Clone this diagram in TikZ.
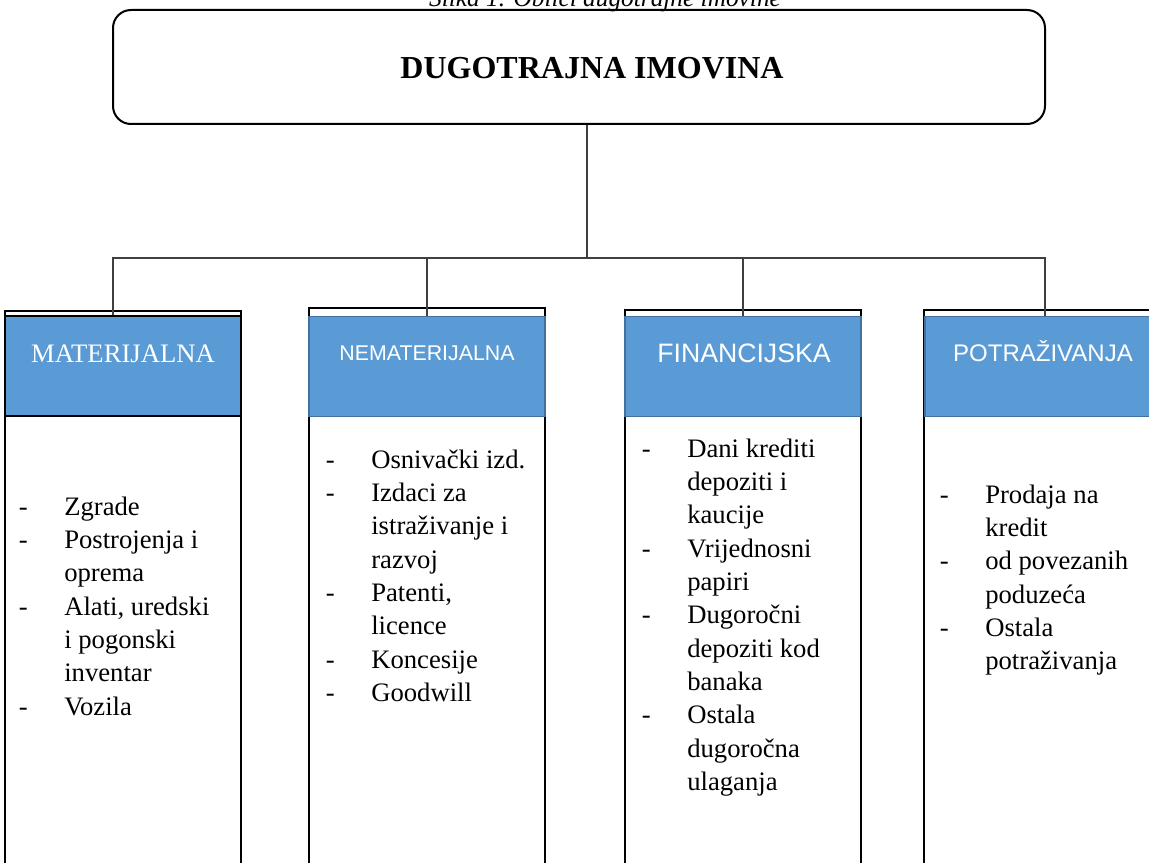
\documentclass[tikz,border=0pt]{standalone}
\usepackage{fontspec}
\setmainfont{Liberation Serif}
\newfontfamily\hdrsans{Liberation Sans}
\definecolor{hdrblue}{HTML}{5B9BD5}
\definecolor{hdredge}{HTML}{41719C}
\definecolor{linkgray}{HTML}{404040}
\newlength{\dashw}
\setlength{\dashw}{34pt}
\newcommand{\itm}{\makebox[\dashw][l]{-}}
\newcommand{\cnt}{\hspace*{\dashw}}
\tikzset{
	titlebox/.style={draw, line width=1.5pt, rounded corners=13.5pt, minimum width=699pt, minimum height=85.5pt, inner sep=0pt},
	hdrbox/.style={fill=hdrblue, draw=hdredge, line width=1.2pt, minimum width=177pt, minimum height=75pt, inner sep=0pt},
	hdrtxt/.style={anchor=base, inner sep=0pt, text=white},
	colframe/.style={line width=1.5pt},
	link/.style={draw=linkgray, line width=1pt},
	listtxt/.style={anchor=base west, inner sep=0pt, font=\fontsize{20}{25}\selectfont}
}
\begin{document}
\begin{tikzpicture}[x=0.75pt,y=0.75pt,yscale=-1,xscale=1]
		\useasboundingbox (0,0) rectangle (1149,863);
		\clip (0,0) rectangle (1149,863);
		
		% Text Node
		\node [anchor=base, inner sep=0pt, font=\itshape\fontsize{19}{23}\selectfont] (cap) at (605,6.5) {Slika 1. Oblici dugotrajne imovine};
		
		%Rounded Rect
		\node [titlebox] (top) at (579,67) {};
		% Text Node
		\node [anchor=base, inner sep=0pt, font=\bfseries\fontsize{24}{28}\selectfont] (toplbl) at (592,78.5) {DUGOTRAJNA IMOVINA};
		
		%Shape: Rectangle
		\draw [colframe] (5,311) rectangle (241,875);
		%Shape: Rectangle
		\draw [colframe] (309,308) rectangle (545,875);
		%Shape: Rectangle
		\draw [colframe] (625,310) rectangle (861,875);
		%Shape: Rectangle
		\draw [colframe] (924,310) rectangle (1165,875);
		
		%Shape: Rectangle
		\node [hdrbox, draw=black, line width=1.5pt] (mat) at (123,366) {};
		%Shape: Rectangle
		\node [hdrbox] (nemat) at (427,366.5) {};
		%Shape: Rectangle
		\node [hdrbox] (fin) at (743,366.5) {};
		%Shape: Rectangle
		\node [hdrbox] (pot) at (1043,366.5) {};
		
		%Straight Lines
		\coordinate (hub) at (587,258);
		\coordinate (busL) at (113,258);
		\coordinate (busR) at (1045,258);
		\draw [link] (top.south -| hub) -- (hub);
		\draw [link] (busL |- mat.north) -- (busL) -- (busR) -- (busR |- pot.north);
		\draw [link] (nemat.north |- hub) -- (nemat.north);
		\draw [link] (fin.north |- hub) -- (fin.north);
		
		% Text Node
		\node [hdrtxt, font=\fontsize{20}{24}\selectfont] (matlbl) at (123,362) {MATERIJALNA};
		% Text Node
		\node [hdrtxt, font=\hdrsans\fontsize{16}{19}\selectfont] (nematlbl) at (427,360) {NEMATERIJALNA};
		% Text Node
		\node [hdrtxt, font=\hdrsans\fontsize{20}{24}\selectfont] (finlbl) at (744,362.5) {FINANCIJSKA};
		% Text Node
		\node [hdrtxt, font=\hdrsans\fontsize{18}{22}\selectfont] (potlbl) at (1043,361.5) {POTRAŽIVANJA};
		
		% Text Node
		\node [listtxt] (matlist) at (18.7,515) {\begin{tabular}[t]{@{}l@{}}
			\itm Zgrade\\ \itm Postrojenja i\\ \cnt oprema\\ \itm Alati, uredski\\ \cnt i pogonski\\ \cnt inventar\\ \itm Vozila
		\end{tabular}};
		% Text Node
		\node [listtxt] (nematlist) at (325.7,468) {\begin{tabular}[t]{@{}l@{}}
			\itm Osnivački izd.\\ \itm Izdaci za\\ \cnt istraživanje i\\ \cnt razvoj\\ \itm Patenti,\\ \cnt licence\\ \itm Koncesije\\ \itm Goodwill
		\end{tabular}};
		% Text Node
		\node [listtxt] (finlist) at (641.7,457) {\begin{tabular}[t]{@{}l@{}}
			\itm Dani krediti\\ \cnt depoziti i\\ \cnt kaucije\\ \itm Vrijednosni\\ \cnt papiri\\ \itm Dugoročni\\ \cnt depoziti kod\\ \cnt banaka\\ \itm Ostala\\ \cnt dugoročna\\ \cnt ulaganja
		\end{tabular}};
		% Text Node
		\node [listtxt] (potlist) at (939.7,503) {\begin{tabular}[t]{@{}l@{}}
			\itm Prodaja na\\ \cnt kredit\\ \itm od povezanih\\ \cnt poduzeća\\ \itm Ostala\\ \cnt potraživanja
		\end{tabular}};
		
	\end{tikzpicture}
\end{document}
